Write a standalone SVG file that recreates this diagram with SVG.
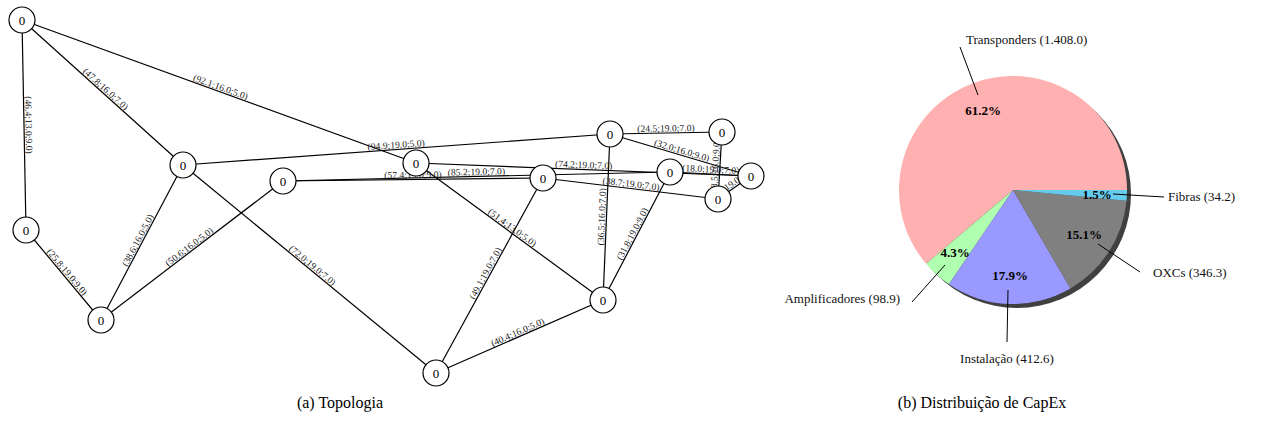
<svg xmlns="http://www.w3.org/2000/svg" width="1261" height="434" viewBox="0 0 1261 434">
<style>
.e{stroke:#000;stroke-width:1.2;fill:none}
.el{font-family:"Liberation Serif",serif;font-size:9.6px;fill:#222;text-anchor:middle}
.n circle{fill:#fff;stroke:#000;stroke-width:1.2}
.n text{font-family:"Liberation Serif",serif;font-size:13px;fill:#000;text-anchor:middle}
.lead{stroke:#000;stroke-width:1}
.pl{font-family:"Liberation Serif",serif;font-size:13px;fill:#111}
.pp{font-family:"Liberation Serif",serif;font-size:13px;font-weight:bold;fill:#000;text-anchor:middle}
.cap{font-family:"Liberation Serif",serif;font-size:16px;fill:#000;text-anchor:middle}
</style>
<rect width="1261" height="434" fill="#fff"/>
<g id="connectors">
<line class="e" x1="22" y1="20" x2="26" y2="230"/>
<line class="e" x1="22" y1="20" x2="183" y2="165"/>
<line class="e" x1="22" y1="20" x2="416" y2="163"/>
<line class="e" x1="26" y1="230" x2="101" y2="320"/>
<line class="e" x1="101" y1="320" x2="183" y2="165"/>
<line class="e" x1="101" y1="320" x2="283" y2="181"/>
<line class="e" x1="183" y1="165" x2="610" y2="134"/>
<line class="e" x1="183" y1="165" x2="436" y2="373"/>
<line class="e" x1="283" y1="181" x2="543" y2="178"/>
<line class="e" x1="283" y1="181" x2="670" y2="172"/>
<line class="e" x1="416" y1="163" x2="751" y2="176"/>
<line class="e" x1="416" y1="163" x2="603" y2="300"/>
<line class="e" x1="543" y1="178" x2="718" y2="199"/>
<line class="e" x1="436" y1="373" x2="543" y2="178"/>
<line class="e" x1="610" y1="134" x2="722" y2="132"/>
<line class="e" x1="610" y1="134" x2="751" y2="176"/>
<line class="e" x1="603" y1="300" x2="610" y2="134"/>
<line class="e" x1="603" y1="300" x2="670" y2="172"/>
<line class="e" x1="436" y1="373" x2="603" y2="300"/>
<line class="e" x1="670" y1="172" x2="751" y2="176"/>
<line class="e" x1="718" y1="199" x2="722" y2="132"/>
<line class="e" x1="718" y1="199" x2="751" y2="176"/>
<text class="el" transform="translate(24,125) rotate(88.91)" y="-1.5">(46.4;13.0;9.0)</text>
<text class="el" transform="translate(102.5,92.5) rotate(42.01)" y="-1.5">(47.8;16.0;7.0)</text>
<text class="el" transform="translate(219,91.5) rotate(19.95)" y="-1.5">(92.1;16.0;5.0)</text>
<text class="el" transform="translate(63.5,275) rotate(50.19)" y="-1.5">(25.8;19.0;9.0)</text>
<text class="el" transform="translate(142,242.5) rotate(-62.12)" y="-1.5">(38.6;16.0;5.0)</text>
<text class="el" transform="translate(192,250.5) rotate(-37.37)" y="-1.5">(50.6;16.0;5.0)</text>
<text class="el" transform="translate(396.5,149.5) rotate(-4.15)" y="-1.5">(94.9;19.0;5.0)</text>
<text class="el" transform="translate(309.5,269) rotate(39.43)" y="-1.5">(72.0;19.0;7.0)</text>
<text class="el" transform="translate(413,179.5) rotate(-0.66)" y="-1.5">(57.4;19.0;9.0)</text>
<text class="el" transform="translate(476.5,176.5) rotate(-1.33)" y="-1.5">(85.2;19.0;7.0)</text>
<text class="el" transform="translate(583.5,169.5) rotate(2.22)" y="-1.5">(74.2;19.0;7.0)</text>
<text class="el" transform="translate(509.5,231.5) rotate(36.22)" y="-1.5">(51.4;13.0;5.0)</text>
<text class="el" transform="translate(630.5,188.5) rotate(6.84)" y="-1.5">(38.7;19.0;7.0)</text>
<text class="el" transform="translate(489.5,275.5) rotate(-61.24)" y="-1.5">(49.1;19.0;7.0)</text>
<text class="el" transform="translate(666,133) rotate(-1.02)" y="-1.5">(24.5;19.0;7.0)</text>
<text class="el" transform="translate(680.5,155) rotate(16.59)" y="-1.5">(32.0;16.0;9.0)</text>
<text class="el" transform="translate(606.5,217) rotate(-87.59)" y="-1.5">(36.5;16.0;7.0)</text>
<text class="el" transform="translate(636.5,236) rotate(-62.37)" y="-1.5">(31.8;19.0;9.0)</text>
<text class="el" transform="translate(519.5,336.5) rotate(-23.61)" y="-1.5">(40.4;16.0;5.0)</text>
<text class="el" transform="translate(710.5,174) rotate(2.83)" y="-1.5">(18.0;19.0;7.0)</text>
<text class="el" transform="translate(720,165.5) rotate(-86.58)" y="-1.5">(8.5;16.0;9.0)</text>
<text class="el" transform="translate(734.5,187.5) rotate(-34.88)" y="-1.5">(4.1;19.0;9.0)</text>
</g>
<g id="nA" class="n"><circle cx="22" cy="20" r="13"/><text x="22" y="24.5">0</text></g>
<g id="nB" class="n"><circle cx="26" cy="230" r="13"/><text x="26" y="234.5">0</text></g>
<g id="nC" class="n"><circle cx="101" cy="320" r="13"/><text x="101" y="324.5">0</text></g>
<g id="nD" class="n"><circle cx="183" cy="165" r="13"/><text x="183" y="169.5">0</text></g>
<g id="nE" class="n"><circle cx="283" cy="181" r="13"/><text x="283" y="185.5">0</text></g>
<g id="nF" class="n"><circle cx="416" cy="163" r="13"/><text x="416" y="167.5">0</text></g>
<g id="nG" class="n"><circle cx="543" cy="178" r="13"/><text x="543" y="182.5">0</text></g>
<g id="nH" class="n"><circle cx="610" cy="134" r="13"/><text x="610" y="138.5">0</text></g>
<g id="nI" class="n"><circle cx="722" cy="132" r="13"/><text x="722" y="136.5">0</text></g>
<g id="nJ" class="n"><circle cx="670" cy="172" r="13"/><text x="670" y="176.5">0</text></g>
<g id="nK" class="n"><circle cx="751" cy="176" r="13"/><text x="751" y="180.5">0</text></g>
<g id="nL" class="n"><circle cx="718" cy="199" r="13"/><text x="718" y="203.5">0</text></g>
<g id="nM" class="n"><circle cx="603" cy="300" r="13"/><text x="603" y="304.5">0</text></g>
<g id="nN" class="n"><circle cx="436" cy="373" r="13"/><text x="436" y="377.5">0</text></g>
<g id="pie">
<circle cx="1017" cy="194" r="114" fill="#404040"/>
<path d="M1013,190 L1127,190 A114,114 0 1 0 926.1,263.8 Z" fill="#FFB0B0"/>
<path d="M1013,190 L926.1,263.8 A114,114 0 0 0 948.9,284.3 Z" fill="#B0FFB0"/>
<path d="M1013,190 L948.9,284.3 A114,114 0 0 0 1070.4,288.5 Z" fill="#9999FF"/>
<path d="M1013,190 L1070.4,288.5 A114,114 0 0 0 1126.5,200.7 Z" fill="#808080"/>
<path d="M1013,190 L1126.5,200.7 A114,114 0 0 0 1127,190 Z" fill="#66CCEE"/>
<line class="lead" x1="960" y1="47" x2="978" y2="95"/>
<line class="lead" x1="1113" y1="194" x2="1164" y2="197"/>
<line class="lead" x1="1098" y1="244" x2="1140" y2="272"/>
<line class="lead" x1="945" y1="265" x2="912" y2="302"/>
<line class="lead" x1="1008" y1="290" x2="1007" y2="342"/>
<text class="pp" x="983" y="115">61.2%</text>
<text class="pp" x="1097" y="199">1.5%</text>
<text class="pp" x="1084" y="239">15.1%</text>
<text class="pp" x="955" y="257">4.3%</text>
<text class="pp" x="1010" y="280">17.9%</text>
<text class="pl" x="966" y="44">Transponders (1.408.0)</text>
<text class="pl" x="1168" y="201">Fibras (34.2)</text>
<text class="pl" x="1153" y="277">OXCs (346.3)</text>
<text class="pl" x="900" y="303" text-anchor="end">Amplificadores (98.9)</text>
<text class="pl" x="1007" y="363" text-anchor="middle">Instalação (412.6)</text>
</g>
<text class="cap" x="340" y="408">(a)  Topologia</text>
<text class="cap" x="982" y="408">(b)  Distribuição de CapEx</text>
</svg>
